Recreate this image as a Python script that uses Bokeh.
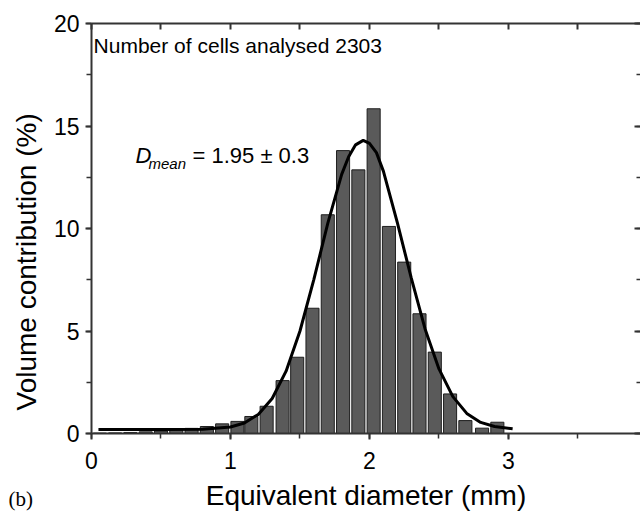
from bokeh.plotting import figure
from bokeh.models import Range1d, LinearAxis, SingleIntervalTicker, Label, Title
from bokeh.embed import file_html
from bokeh.resources import INLINE

# Histogram bins (equivalent diameter, mm) and volume contribution (%)
bin_centers = [0.06, 0.17, 0.28, 0.39, 0.50, 0.61, 0.72, 0.83, 0.94, 1.05,
               1.15, 1.26, 1.375, 1.48, 1.59, 1.70, 1.81, 1.92, 2.03, 2.14,
               2.25, 2.36, 2.47, 2.58, 2.69, 2.81, 2.92]
volume_pct = [0.02, 0.03, 0.05, 0.08, 0.12, 0.18, 0.25, 0.34, 0.47, 0.59,
              0.83, 1.33, 2.58, 3.72, 6.11, 10.67, 13.80, 12.86, 15.84, 10.10,
              8.36, 5.84, 3.97, 1.93, 0.63, 0.26, 0.55]

# Fitted curve
fit_x = [0.05, 0.5, 0.8, 1.0, 1.1, 1.2, 1.3, 1.4, 1.5, 1.6, 1.7, 1.8, 1.85,
         1.9, 1.955, 2.0, 2.05, 2.1, 2.2, 2.3, 2.4, 2.5, 2.6, 2.7, 2.8, 2.9, 3.03]
fit_y = [0.20, 0.20, 0.21, 0.32, 0.51, 0.93, 1.71, 3.04, 5.00, 7.52, 10.25, 12.64, 13.50,
         14.08, 14.30, 14.15, 13.70, 12.80, 10.30, 7.60, 5.10, 3.15, 1.80, 0.98, 0.54, 0.34, 0.23]

x_ticks_major = 1
y_ticks_major = 5

FONT = "Liberation Sans"

p = figure(width=640, height=513, output_backend="svg", toolbar_location=None,
           x_range=Range1d(0, 3.95), y_range=Range1d(0, 20),
           min_border_left=91, min_border_top=23, min_border_bottom=80, min_border_right=0,
           x_axis_location=None, y_axis_location=None)
p.grid.visible = False
p.outline_line_color = None
p.background_fill_color = "white"

p.vbar(x=bin_centers, top=volume_pct, width=0.094, bottom=0,
       fill_color="#5a5a5a", line_color="#1e1e1e", line_width=1)
p.line(fit_x, fit_y, line_color="black", line_width=3)

def style_axis(ax, labels=True, inward=False):
    ax.axis_line_color = "#333333"
    ax.axis_line_width = 2
    ax.major_tick_line_color = "#333333"
    ax.minor_tick_line_color = "#333333"
    ax.major_tick_line_width = 2
    ax.minor_tick_line_width = 1.5
    if inward:
        ax.major_tick_in, ax.major_tick_out = 6, 0
        ax.minor_tick_in, ax.minor_tick_out = 4, 0
    else:
        ax.major_tick_in, ax.major_tick_out = 0, 6
        ax.minor_tick_in, ax.minor_tick_out = 0, 5
    if labels:
        ax.major_label_text_font = FONT
        ax.major_label_text_font_size = "23px"
        ax.major_label_text_color = "black"
        ax.axis_label_text_font = FONT
        ax.axis_label_text_font_size = "28px"
        ax.axis_label_text_font_style = "normal"
        ax.axis_label_text_color = "black"
    else:
        ax.major_label_text_font_size = "0px"
        ax.major_label_text_alpha = 0

bottom = LinearAxis(ticker=SingleIntervalTicker(interval=x_ticks_major, num_minor_ticks=2),
                    axis_label="Equivalent diameter (mm)")
style_axis(bottom)
bottom.major_label_standoff = 12
bottom.axis_label_standoff = 8
p.add_layout(bottom, "below")

left = LinearAxis(ticker=SingleIntervalTicker(interval=y_ticks_major, num_minor_ticks=2))
style_axis(left)
left.major_label_standoff = 6
p.add_layout(left, "left")

top = LinearAxis(ticker=SingleIntervalTicker(interval=0.5, num_minor_ticks=0))
style_axis(top, labels=False, inward=True)
p.add_layout(top, "above")

right = LinearAxis(ticker=SingleIntervalTicker(interval=y_ticks_major, num_minor_ticks=2))
style_axis(right, labels=False, inward=True)
right.axis_line_alpha = 0
p.add_layout(right, "right")

# y-axis title, positioned along the side
p.add_layout(Title(text="Volume contribution (%)", align="left", offset=23,
                   vertical_align="middle", standoff=15, text_font=FONT,
                   text_font_size="28px", text_font_style="normal", text_color="black"),
             "left")

# panel caption "(b)"
p.add_layout(Title(text="(b)", align="left", offset=-83, vertical_align="top",
                   standoff=-54, text_font="Liberation Serif", text_font_size="21px",
                   text_font_style="normal", text_color="black"),
             "below")

# Annotations
p.add_layout(Label(x=0.015, y=18.93, text="Number of cells analysed 2303", text_font=FONT,
                   text_font_size="21px", text_align="left", text_baseline="middle",
                   text_color="black"))
p.add_layout(Label(x=0.317, y=13.56, text="D", text_font=FONT, text_font_style="italic",
                   text_font_size="22px", text_align="left", text_baseline="alphabetic",
                   text_color="black"))
p.add_layout(Label(x=0.41, y=13.15, text="mean", text_font=FONT, text_font_style="italic",
                   text_font_size="15px", text_align="left", text_baseline="alphabetic",
                   text_color="black"))
p.add_layout(Label(x=0.727, y=13.56, text="= 1.95 \u00b1 0.3", text_font=FONT,
                   text_font_size="22px", text_align="left", text_baseline="alphabetic",
                   text_color="black"))

open("out.html", "w").write(file_html(p, INLINE))
